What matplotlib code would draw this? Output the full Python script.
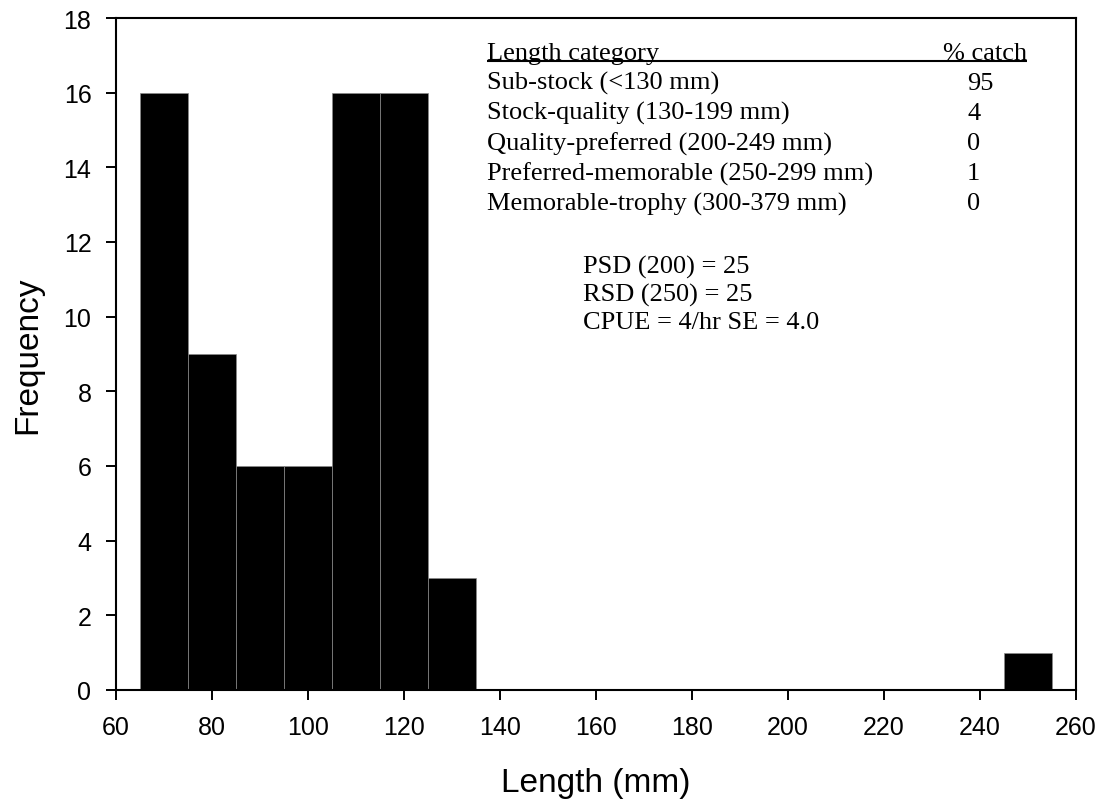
import matplotlib
matplotlib.use("Agg")
import matplotlib.pyplot as plt

# histogram data (left bin edge, count), bins are 10 mm wide
bin_left = [65, 75, 85, 95, 105, 115, 125, 245]
freq = [16, 9, 6, 6, 16, 16, 3, 1]
bin_width = 10

# length category table
categories = ["Sub-stock (<130 mm)",
              "Stock-quality (130-199 mm)",
              "Quality-preferred (200-249 mm)",
              "Preferred-memorable (250-299 mm)",
              "Memorable-trophy (300-379 mm)"]
pct_catch = [95, 4, 0, 1, 0]

# stock indices
indices = ["PSD (200) = 25", "RSD (250) = 25", "CPUE = 4/hr SE = 4.0"]

x_ticks = list(range(60, 261, 20))
y_ticks = list(range(0, 19, 2))

plt.rcParams['font.family'] = ['Liberation Sans', 'DejaVu Sans']
serif = ['Liberation Serif', 'DejaVu Serif']

fig = plt.figure(figsize=(11.01, 8.03), dpi=100)
ax = fig.add_axes([116 / 1101, 112 / 803, 960 / 1101, 672 / 803])

ax.bar(bin_left, freq, width=bin_width, align='edge', color='black',
       edgecolor='#8a8a8a', linewidth=0.5)

ax.set_xlim(60, 260)
ax.set_ylim(0, 18)
ax.set_xticks(x_ticks)
ax.set_yticks(y_ticks)
ax.tick_params(direction='out', length=7.2, width=1.4, labelsize=18, pad=10.5)
for s in ax.spines.values():
    s.set_linewidth(1.5)

ax.set_xlabel('Length (mm)', fontsize=24)
ax.set_ylabel('Frequency', fontsize=24)
ax.xaxis.set_label_coords(0.5, -0.114)
ax.yaxis.set_label_coords(-0.076, 0.5)

# table of length categories
x_cat, x_pct, x_num = 0.3865, 0.8615, 0.8865
y0, dy = 0.939, 0.0447
ax.text(x_cat, y0, 'Length category', transform=ax.transAxes, fontsize=19,
        family=serif, va='baseline')
ax.text(x_pct, y0, '% catch', transform=ax.transAxes, fontsize=19,
        family=serif, va='baseline')
ax.plot([x_cat, 0.949], [0.9353, 0.9353], transform=ax.transAxes,
        color='black', lw=1.5, solid_capstyle='butt')
for i, (cat, p) in enumerate(zip(categories, pct_catch)):
    yy = y0 - (i + 1) * dy
    ax.text(x_cat, yy, cat, transform=ax.transAxes, fontsize=19,
            family=serif, va='baseline')
    ax.text(x_num, yy, str(p), transform=ax.transAxes, fontsize=19,
            family=serif, va='baseline')

# PSD / RSD / CPUE
for i, s in enumerate(indices):
    ax.text(0.4865, 0.6216 - i * 0.0417, s, transform=ax.transAxes,
            fontsize=19, family=serif, va='baseline')

fig.savefig('out.png', dpi=100)
